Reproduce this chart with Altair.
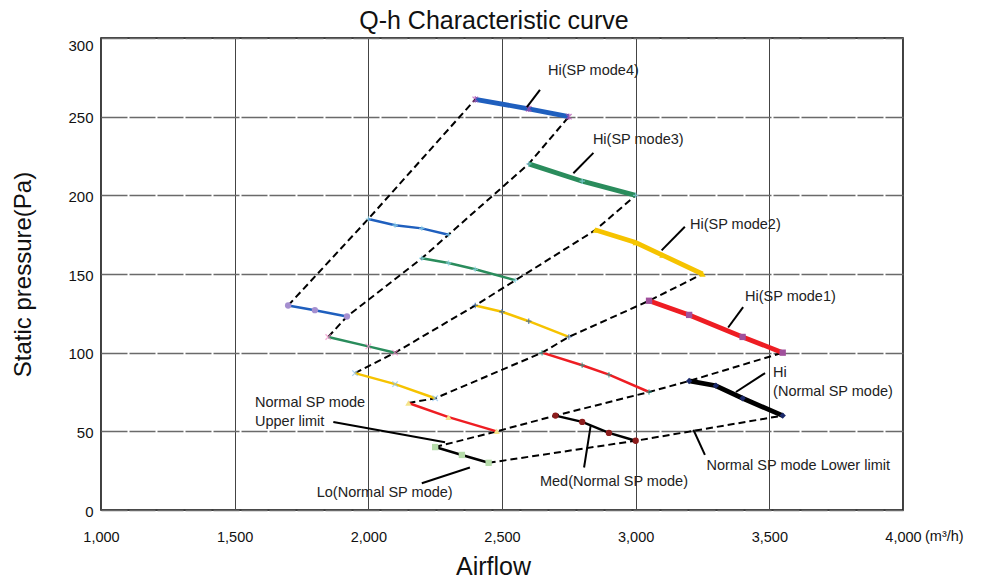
import altair as alt
import pandas as pd

FONT = "Liberation Sans"

# ---- fan curves (airflow m3/h, static pressure Pa) ----
hi4_x = [2400, 2600, 2750];            hi4_y = [261, 255, 250]
med4_x = [2000, 2100, 2200, 2300];     med4_y = [185, 181, 179, 175]
lo4_x = [1700, 1800, 1920];            lo4_y = [130, 127, 123]
hi3_x = [2600, 2800, 3000];            hi3_y = [220, 209, 200]
med3_x = [2200, 2300, 2400, 2550];     med3_y = [160, 157, 153, 146]
lo3_x = [1850, 2000, 2100];            lo3_y = [110, 104, 100]
hi2_x = [2850, 3000, 3100, 3250];      hi2_y = [178, 170, 162, 150]
med2_x = [2400, 2500, 2600, 2750];     med2_y = [130, 126, 120, 110]
lo2_x = [1950, 2100, 2250];            lo2_y = [87, 80, 71]
hi1_x = [3050, 3200, 3400, 3550];      hi1_y = [133, 124, 110, 100]
med1_x = [2650, 2800, 2900, 3050];     med1_y = [100, 92, 86, 75]
lo1_x = [2150, 2300, 2480];            lo1_y = [68, 59, 50]
hin_x = [3200, 3300, 3400, 3550];      hin_y = [82, 79, 71, 60]
medn_x = [2700, 2800, 2900, 3000];     medn_y = [60, 56, 49, 44]
lon_x = [2250, 2350, 2450];            lon_y = [40, 35, 30]

# ---- dashed system curves ----
d1_x = [1700, 2000, 2400];                         d1_y = [130, 185, 261]
d2_x = [1850, 1920, 2200, 2300, 2600, 2750];       d2_y = [110, 123, 160, 175, 220, 250]
d3_x = [1950, 2100, 2400, 2550, 2850, 3000];       d3_y = [87, 100, 130, 146, 178, 200]
d4_x = [2150, 2250, 2650, 2750, 3050, 3250];       d4_y = [68, 71, 100, 110, 133, 150]
d5_x = [2250, 2480, 2700, 3050, 3200, 3550];       d5_y = [40, 50, 60, 75, 82, 100]
d6_x = [2450, 3000, 3550];                         d6_y = [30, 44, 60]

# ---- annotation labels and leader lines ----
label_text = ["Hi(SP mode4)", "Hi(SP mode3)", "Hi(SP mode2)", "Hi(SP mode1)", "Hi",
              "(Normal SP mode)", "Normal SP mode Lower limit", "Med(Normal SP mode)",
              "Normal SP mode", "Upper limit", "Lo(Normal SP mode)"]
label_x = [2672, 2840, 3203, 3409, 3514, 3514, 3265, 2642, 1576, 1576, 1807]
label_y = [279, 235, 181, 135.5, 87, 75.3, 28, 18, 68, 56, 10.6]
lead_x1 = [2593, 2767, 3097, 3346, 3375, 3216, 2832, 1869, 2200]
lead_y1 = [256, 214, 165, 116, 75, 51, 54, 56, 17]
lead_x2 = [2642, 2842, 3184, 3402, 3484, 3259, 2807, 2287, 2380]
lead_y2 = [267, 227, 180, 129, 87, 35, 27, 43, 27]

x_ticks = [1000, 1500, 2000, 2500, 3000, 3500, 4000]
y_ticks = [0, 50, 100, 150, 200, 250, 300]

solid = {
    "Hi4": (hi4_x, hi4_y), "Med4": (med4_x, med4_y), "Lo4": (lo4_x, lo4_y),
    "Hi3": (hi3_x, hi3_y), "Med3": (med3_x, med3_y), "Lo3": (lo3_x, lo3_y),
    "Hi2": (hi2_x, hi2_y), "Med2": (med2_x, med2_y), "Lo2": (lo2_x, lo2_y),
    "Hi1": (hi1_x, hi1_y), "Med1": (med1_x, med1_y), "Lo1": (lo1_x, lo1_y),
    "HiN": (hin_x, hin_y), "MedN": (medn_x, medn_y), "LoN": (lon_x, lon_y),
}
dashed = {"d1": (d1_x, d1_y), "d2": (d2_x, d2_y), "d3": (d3_x, d3_y),
          "d4": (d4_x, d4_y), "d5": (d5_x, d5_y), "d6": (d6_x, d6_y)}

# styles
BLUE, GREEN, YEL, RED, BLK = "#1f5fbe", "#2a8c5c", "#f6c300", "#ee1d23", "#000000"
line_color = {"Hi4": BLUE, "Med4": BLUE, "Lo4": BLUE, "Hi3": GREEN, "Med3": GREEN, "Lo3": GREEN,
              "Hi2": YEL, "Med2": YEL, "Lo2": YEL, "Hi1": RED, "Med1": RED, "Lo1": RED,
              "HiN": BLK, "MedN": BLK, "LoN": BLK}
XPATH = "M-1,-1L1,1M-1,1L1,-1"
XSTAR = "M-1,-1L1,1M-1,1L1,-1M0,-1.2L0,1.2"
PLUS = "M-1,0L1,0M0,-1L0,1"
stroke_markers = {"Hi4": (XSTAR, "#b04cb0"), "Med4": (PLUS, "#8fd8ec"), "Hi3": (PLUS, "#8fd8ec"),
                  "Med3": (PLUS, "#8fd8ec"), "Lo3": (XPATH, "#f08cc8"), "Med2": (PLUS, "#2a5fb0"),
                  "Lo2": (XPATH, "#8cc4f0"), "Med1": (PLUS, "#2a9a8a")}
fill_markers = {"Lo4": ("circle", "#a58fd0"), "Hi2": ("triangle-up", "#f5c800"),
                "Hi1": ("square", "#a0509c"), "Lo1": ("triangle-up", "#f5e48a"),
                "HiN": ("diamond", "#1b2a6b"), "MedN": ("circle", "#8c1c1c"),
                "LoN": ("square", "#b6dcaa")}

rows = []
for name, (xs, ys) in solid.items():
    for i, (x, y) in enumerate(zip(xs, ys)):
        rows.append({"series": name, "order": i, "x": x, "y": y})
df_solid = pd.DataFrame(rows)

rows = []
for name, (xs, ys) in dashed.items():
    for i, (x, y) in enumerate(zip(xs, ys)):
        rows.append({"curve": name, "order": i, "x": x, "y": y})
df_dash = pd.DataFrame(rows)

df_lead = pd.DataFrame({"x": lead_x1, "y": lead_y1, "x2": lead_x2, "y2": lead_y2})
df_text = pd.DataFrame({"t": label_text, "x": label_x, "y": label_y})
df_unit = pd.DataFrame({"t": ["(m³/h)"], "x": [4000], "y": [0]})

xscale = alt.Scale(domain=[1000, 4000], nice=False, zero=False)
yscale = alt.Scale(domain=[0, 300], nice=False)

xaxis = alt.Axis(values=x_ticks, format=",d", title="Airflow", grid=True, gridColor="#444",
                 gridWidth=1, ticks=False, domain=False, labelFlush=False,
                 labelFont=FONT, labelFontSize=14.5, labelColor="#111", labelPadding=20,
                 titleFont=FONT, titleFontSize=25, titleFontWeight="normal", titleColor="#111",
                 titlePadding=11, titleX=392, titleAlign="center")
yaxis = alt.Axis(values=y_ticks, format="d", title="Static pressure(Pa)", grid=True,
                 gridColor="#6a6a6a", gridWidth=1.3, gridDash=[26, 2], ticks=False, domain=False,
                 labelFont=FONT, labelFontSize=15, labelColor="#111", labelPadding=8,
                 labelOffset={"condition": {"test": "datum.value == 300", "value": 7}, "value": 1},
                 titleFont=FONT, titleFontSize=24, titleFontWeight="normal", titleColor="#111",
                 titlePadding=32)

base_x = alt.X("x:Q", scale=xscale, axis=xaxis)
base_y = alt.Y("y:Q", scale=yscale, axis=yaxis)

dash_layer = alt.Chart(df_dash).mark_line(color="black", strokeWidth=2, strokeDash=[7, 4]).encode(
    x=base_x, y=base_y, detail="curve:N", order="order:Q")

keys = list(solid.keys())
hi_keys = [k for k in keys if k.startswith("Hi")]
other_keys = [k for k in keys if not k.startswith("Hi")]
color_enc = alt.Color("series:N", scale=alt.Scale(domain=keys, range=[line_color[k] for k in keys]),
                      legend=None)

thin_lines = alt.Chart(df_solid).transform_filter(
    alt.FieldOneOfPredicate(field="series", oneOf=other_keys)).mark_line(strokeWidth=2.5).encode(
    x="x:Q", y="y:Q", detail="series:N", order="order:Q", color=color_enc)
thick_lines = alt.Chart(df_solid).transform_filter(
    alt.FieldOneOfPredicate(field="series", oneOf=hi_keys)).mark_line(strokeWidth=4.8).encode(
    x="x:Q", y="y:Q", detail="series:N", order="order:Q", color=color_enc)

sk = list(stroke_markers.keys())
smark = alt.Chart(df_solid).transform_filter(
    alt.FieldOneOfPredicate(field="series", oneOf=sk)).mark_point(filled=False, size=30, strokeWidth=1.3).encode(
    x="x:Q", y="y:Q",
    shape=alt.Shape("series:N", scale=alt.Scale(domain=sk, range=[stroke_markers[k][0] for k in sk]), legend=None),
    stroke=alt.Stroke("series:N", scale=alt.Scale(domain=sk, range=[stroke_markers[k][1] for k in sk]), legend=None),
)
fk = list(fill_markers.keys())
fmark = alt.Chart(df_solid).transform_filter(
    alt.FieldOneOfPredicate(field="series", oneOf=fk)).mark_point(filled=True, size=40, opacity=1).encode(
    x="x:Q", y="y:Q",
    shape=alt.Shape("series:N", scale=alt.Scale(domain=fk, range=[fill_markers[k][0] for k in fk]), legend=None),
    fill=alt.Fill("series:N", scale=alt.Scale(domain=fk, range=[fill_markers[k][1] for k in fk]), legend=None),
)

lead_layer = alt.Chart(df_lead).mark_rule(color="black", strokeWidth=2).encode(
    x="x:Q", y="y:Q", x2="x2:Q", y2="y2:Q")

text_layer = alt.Chart(df_text).mark_text(align="left", baseline="middle", font=FONT,
                                           fontSize=14.5, color="#222").encode(
    x="x:Q", y="y:Q", text="t:N")

unit_layer = alt.Chart(df_unit).mark_text(align="left", baseline="middle", font=FONT,
                                           fontSize=14.5, color="#111", dx=22, dy=27).encode(
    x="x:Q", y="y:Q", text="t:N")

chart = alt.layer(dash_layer, thin_lines, thick_lines, smark, fmark, lead_layer, text_layer,
                  unit_layer).resolve_scale(
    shape="independent", stroke="independent", fill="independent"
).properties(
    width=802, height=472, autosize="none",
    padding={"left": 101, "top": 38, "right": 81, "bottom": 69},
    title=alt.TitleParams("Q-h Characteristic curve", font=FONT, fontSize=25, fontWeight="normal",
                          color="#111", offset=4, dx=-8, anchor="middle"),
    background="white",
).configure_view(stroke="black", strokeWidth=1.5)

chart.save("out.html", embed_options={"renderer": "svg", "actions": False})
